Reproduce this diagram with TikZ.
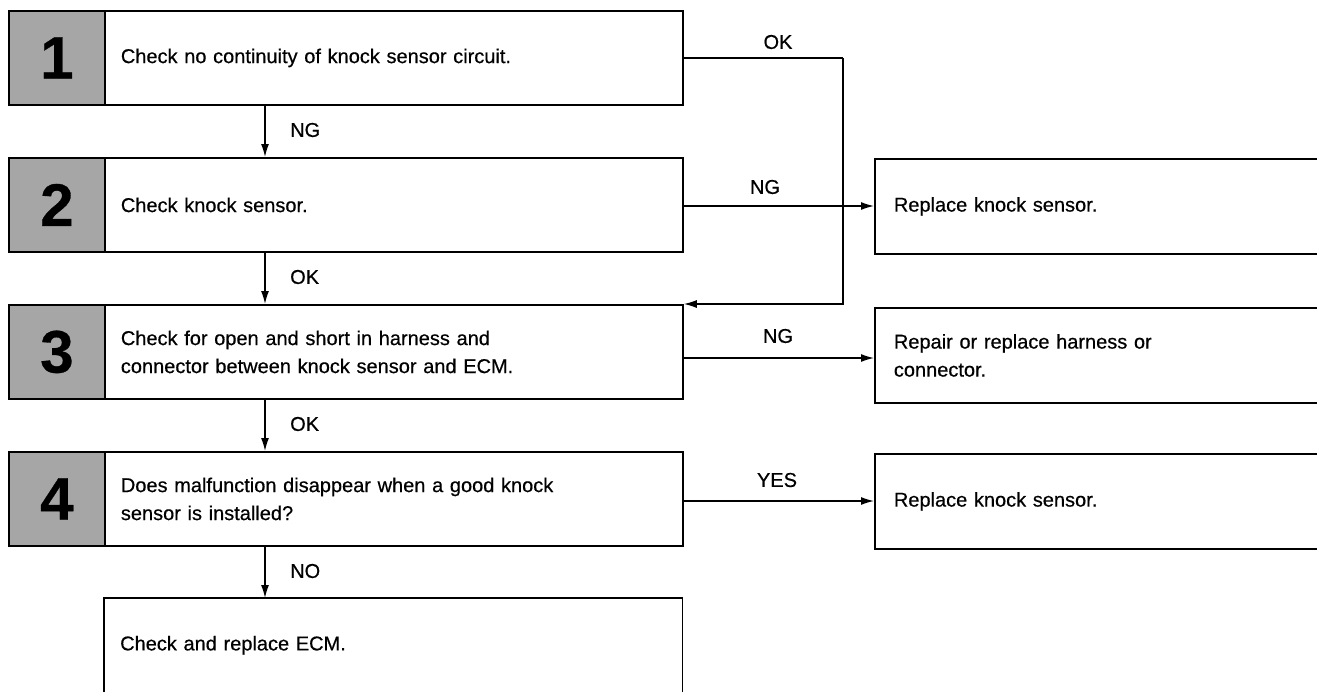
\documentclass[tikz,border=0pt]{standalone}
\usepackage{fontspec}
\setmainfont[FakeBold=0.5]{Liberation Sans}
\usetikzlibrary{arrows.meta}
\begin{document}
\begin{tikzpicture}[x=1pt,y=-1pt,
  txt/.style={font=\fontsize{20}{28}\selectfont},
  box/.style={txt, draw, line width=1.8pt, anchor=north west, minimum width=578pt, minimum height=94pt, inner xsep=16pt, inner ysep=0pt, text width=546pt, align=left},
  openbox/.style={txt, anchor=north west, minimum width=578pt, minimum height=94pt, inner xsep=16pt, inner ysep=0pt, text width=546pt, align=left},
  rbox/.style={txt, draw, line width=1.8pt, anchor=north west, minimum width=460pt, minimum height=95pt, inner xsep=19pt, inner ysep=0pt, text width=422pt, align=left},
  num/.style={draw, line width=1.8pt, fill=black!35, anchor=north west, minimum width=96pt, minimum height=94pt, inner sep=0pt, font=\fontsize{60}{60}\selectfont\bfseries},
  lbl/.style={font=\fontsize{20}{24}\selectfont, inner sep=0pt},
  arr/.style={line width=1.3pt, -{Latex[length=13pt,width=8pt]}},
  ln/.style={line width=1.3pt}]
\clip (0,0) rectangle (1317,691);
% left column
\node[num] (n1) at (8,10) {1};
\node[box] (b1) at (104,10) {Check no continuity of knock sensor circuit.};
\node[num] (n2) at (8,157) {2};
\node[box] (b2) at (104,157) {Check knock sensor.};
\node[num] (n3) at (8,304) {3};
\node[box] (b3) at (104,304) {Check for open and short in harness and\\connector between knock sensor and ECM.};
\node[num] (n4) at (8,451) {4};
\node[box] (b4) at (104,451) {Does malfunction disappear when a good knock\\sensor is installed?};
\node[openbox] (b5) at (104,598) {Check and replace ECM.};
\draw[line width=1.8pt] (b5.west |- 0,710) -- (b5.north west) -- (b5.north east) -- (b5.east |- 0,710);
% right column
\node[rbox] (r1) at (874,158) {Replace knock sensor.};
\node[rbox] (r2) at (874,307) {Repair or replace harness or\\connector.};
\node[rbox] (r3) at (874,453) {Replace knock sensor.};
% vertical connectors
\coordinate (vx) at (265,0);
\draw[arr] (b1.south -| vx) -- (b2.north -| vx);
\draw[arr] (b2.south -| vx) -- (b3.north -| vx);
\draw[arr] (b3.south -| vx) -- (b4.north -| vx);
\draw[arr] (b4.south -| vx) -- (b5.north -| vx);
\node[lbl, anchor=west] (l1) at (290,130) {NG};
\node[lbl, anchor=west] (l2) at (290,277) {OK};
\node[lbl, anchor=west] (l3) at (290,424) {OK};
\node[lbl, anchor=west] (l4) at (290,571) {NO};
% OK loop
\coordinate (ok) at (843,58);
\draw[ln] (b1.east |- ok) -- (ok);
\draw[arr] (ok) |- (b3.north east);
\node[lbl] (lok) at (778,42) {OK};
% horizontal connectors
\coordinate (h1) at (0,206);
\coordinate (h2) at (0,358);
\coordinate (h3) at (0,501);
\draw[arr] (b2.east |- h1) -- (r1.west |- h1);
\draw[arr] (b3.east |- h2) -- (r2.west |- h2);
\draw[arr] (b4.east |- h3) -- (r3.west |- h3);
\node[lbl] (lng1) at (765,187) {NG};
\node[lbl] (lng2) at (778,336) {NG};
\node[lbl] (lyes) at (777,480) {YES};
\end{tikzpicture}
\end{document}
